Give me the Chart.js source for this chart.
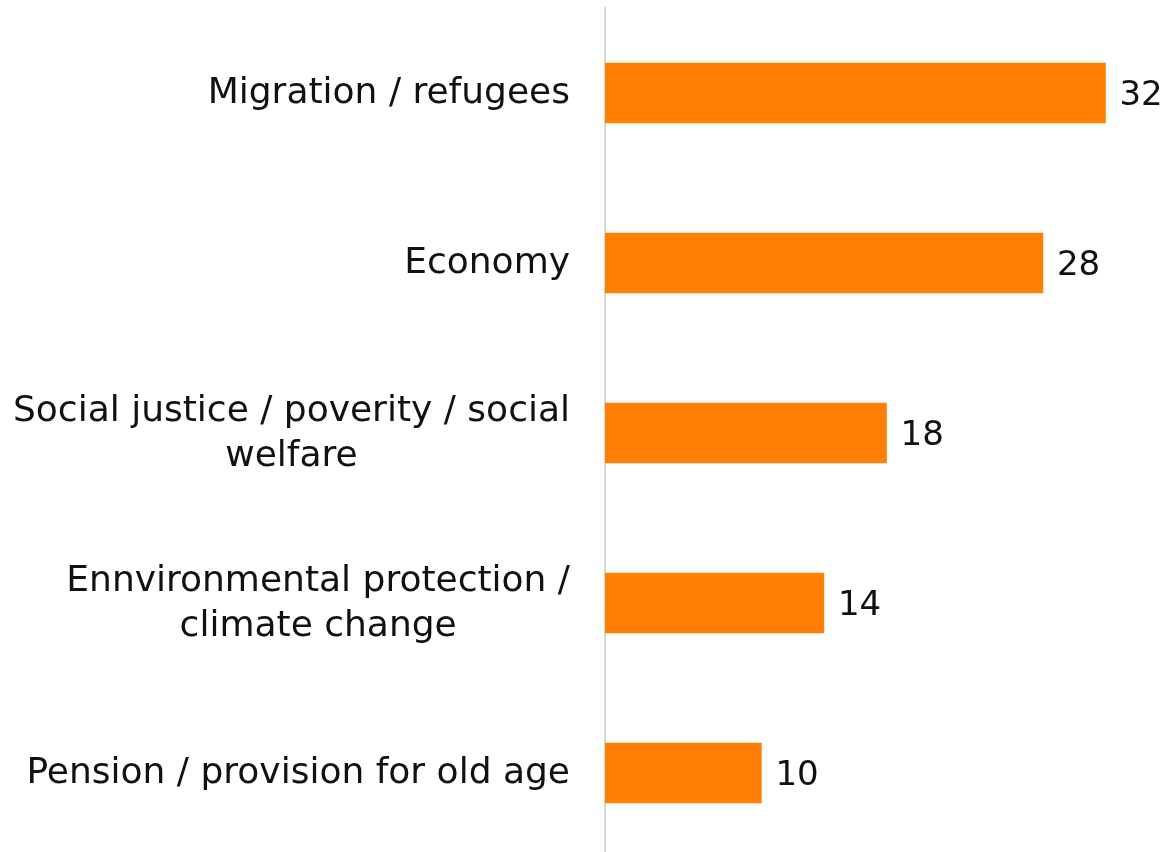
<!DOCTYPE html>
<html>
<head>
<meta charset="utf-8">
<script src="https://cdn.jsdelivr.net/npm/chart.js@4/dist/chart.umd.min.js"></script>
<style>
  html, body { margin: 0; padding: 0; background: #fff; overflow: hidden; }
  #wrap { width: 1168px; height: 858px; }
</style>
</head>
<body>
<div id="wrap"><canvas id="issuesChart"></canvas></div>
<script>
const categories = [
    'Migration / refugees',
    'Economy',
    ['Social justice / poverity / social', 'welfare'],
    ['Ennvironmental protection /', 'climate change'],
    'Pension / provision for old age'
];
const values = [32, 28, 18, 14, 10];

const FONT = "'DejaVu Sans', sans-serif";

// draws the number just right of each bar end
const valueLabels = {
    id: 'valueLabels',
    afterDatasetsDraw(chart) {
        const ctx = chart.ctx;
        const meta = chart.getDatasetMeta(0);
        ctx.save();
        ctx.font = '34px ' + FONT;
        ctx.fillStyle = '#111';
        ctx.textAlign = 'left';
        ctx.textBaseline = 'middle';
        meta.data.forEach((bar, i) => {
            ctx.fillText(String(values[i]), bar.x + 14, bar.y + 3);
        });
        ctx.restore();
    }
};

// category labels: block right-aligned to the axis, lines centred inside the block
const categoryLabels = {
    id: 'categoryLabels',
    afterDraw(chart) {
        const ctx = chart.ctx;
        const yScale = chart.scales.y;
        const right = chart.chartArea.left - 35;
        const lineH = 45;
        ctx.save();
        ctx.font = '36px ' + FONT;
        ctx.fillStyle = '#111';
        ctx.textBaseline = 'middle';
        ctx.textAlign = 'center';
        categories.forEach((label, i) => {
            const lines = Array.isArray(label) ? label : [label];
            const w = Math.max(...lines.map(l => ctx.measureText(l).width));
            const cx = right - w / 2;
            const y0 = yScale.getPixelForTick(i) - (lines.length - 1) * lineH / 2;
            lines.forEach((l, j) => ctx.fillText(l, cx, y0 + j * lineH + 1));
        });
        ctx.restore();
    }
};

const chartElement = document.getElementById('issuesChart');
if (chartElement) {
    const ctx = chartElement.getContext('2d');
    new Chart(ctx, {
        type: 'bar',
        data: {
            labels: categories,
            datasets: [{
                data: values,
                backgroundColor: '#ff7f04',
                barThickness: 60
            }]
        },
        options: {
            indexAxis: 'y',
            responsive: true,
            maintainAspectRatio: false,
            animation: false,
            layout: { padding: { top: 8, right: 0, bottom: 0, left: 0 } },
            plugins: { legend: { display: false }, tooltip: { enabled: false } },
            scales: {
                x: { display: false, min: 0, max: 36 },
                y: {
                    afterFit(scale) {
                        scale.width = 605;
                        scale.paddingTop = 0;
                        scale.paddingBottom = 0;
                    },
                    grid: { display: false },
                    border: { display: true, color: '#d9d9d9', width: 2 },
                    ticks: { display: false }
                }
            }
        },
        plugins: [valueLabels, categoryLabels]
    });
}
</script>
</body>
</html>
